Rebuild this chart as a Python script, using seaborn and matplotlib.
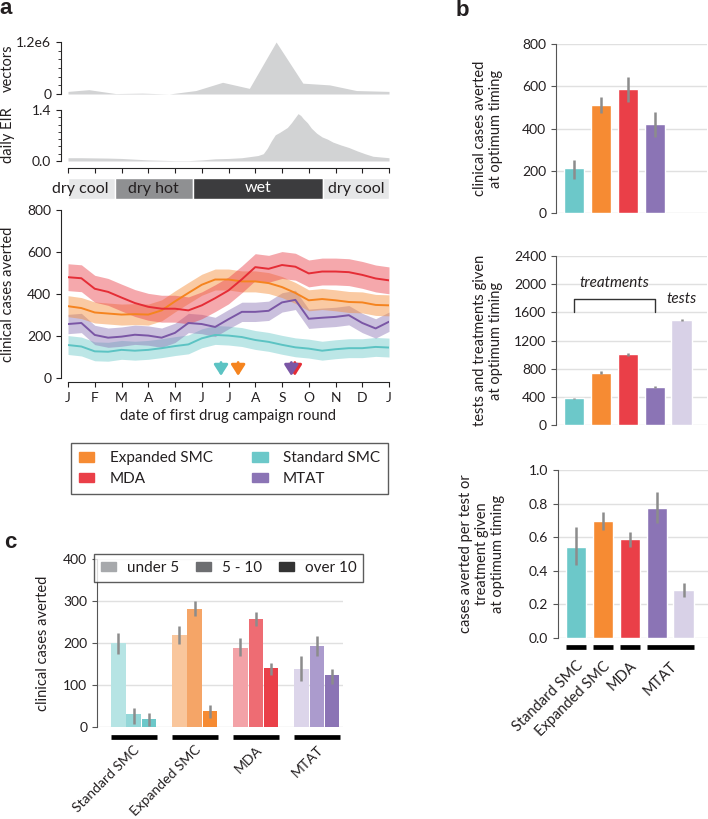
import numpy as np
import pandas as pd
import matplotlib
matplotlib.use("Agg")
import matplotlib.pyplot as plt
import matplotlib.ticker as mticker
import seaborn as sns
from matplotlib.patches import Patch

# ---------------- data ----------------
month_labels = ["J", "F", "M", "A", "M", "J", "J", "A", "S", "O", "N", "D", "J"]

# seasonal vector abundance and daily EIR (months since 1 Jan)
vector_month = [0, 0.78, 1.78, 2.78, 3.78, 4.78, 5.78, 6.78, 7.78, 8.78, 9.78, 10.78, 12]
vector_count = [0.06e6, 0.10e6, 0.01e6, 0.02e6, 0.0, 0.08e6, 0.27e6, 0.13e6,
                1.2e6, 0.25e6, 0.21e6, 0.08e6, 0.06e6]

eir_month = [0, 0.5, 1.0, 1.5, 2.0, 2.5, 3.0, 3.5, 4.0, 4.5, 5.0, 5.5, 6.0, 6.5, 6.8,
             7.1, 7.3, 7.45, 7.6, 7.75, 7.9, 8.05, 8.2, 8.35, 8.5, 8.6, 8.7, 8.8, 8.95,
             9.1, 9.3, 9.5, 9.7, 9.9, 10.2, 10.5, 10.8, 11.1, 11.4, 11.7, 12]
eir_value = [0.09, 0.09, 0.085, 0.08, 0.07, 0.05, 0.03, 0.02, 0.01, 0.01, 0.03, 0.06,
             0.07, 0.09, 0.12, 0.15, 0.2, 0.35, 0.55, 0.72, 0.78, 0.85, 0.92, 1.05,
             1.2, 1.3, 1.25, 1.16, 1.05, 0.9, 0.76, 0.66, 0.6, 0.52, 0.44, 0.37, 0.28,
             0.2, 0.13, 0.11, 0.09]

season_names = ["dry cool", "dry hot", "wet", "dry cool"]
season_start = [0, 1.76, 4.67, 9.53]
season_end = [1.76, 4.67, 9.53, 12]

# clinical cases averted vs. date of first round (every half month)
campaign_month = [0, 0.5, 1, 1.5, 2, 2.5, 3, 3.5, 4, 4.5, 5, 5.5, 6, 6.5, 7, 7.5,
                  8, 8.5, 9, 9.5, 10, 10.5, 11, 11.5, 12]
expanded_smc = [342, 333, 312, 307, 302, 304, 302, 322, 365, 405, 444, 469, 469, 460,
                460, 452, 433, 405, 370, 376, 370, 362, 360, 348, 346]
standard_smc = [157, 150, 127, 125, 134, 130, 134, 142, 152, 160, 189, 205, 202, 195,
                181, 172, 158, 146, 140, 130, 137, 142, 142, 148, 145]
mda = [480, 475, 425, 410, 383, 357, 339, 330, 330, 322, 346, 380, 417, 470, 528,
       520, 538, 530, 498, 507, 507, 504, 491, 474, 465]
mtat = [257, 262, 205, 192, 197, 206, 202, 192, 215, 262, 257, 243, 280, 315, 315,
        320, 360, 372, 282, 287, 291, 299, 262, 236, 268]
band_halfwidth = {"Expanded SMC": 50, "Standard SMC": 45, "MDA": 64, "MTAT": 46}
optimum_month = {"Standard SMC": 5.72, "Expanded SMC": 6.36, "MDA": 8.48, "MTAT": 8.35}

# panel b
b_keys = ["Standard SMC", "Expanded SMC", "MDA", "MTAT", "MTAT tests"]
strategy_labels = ["Standard SMC", "Expanded SMC", "MDA", "MTAT"]
cases_opt = [211, 510, 586, 421]
cases_lo = [163, 472, 527, 361]
cases_hi = [250, 548, 643, 480]
given_opt = [378, 742, 1002, 544, 1489]
given_lo = [366, 722, 982, 532, 1474]
given_hi = [390, 762, 1022, 556, 1504]
per_given = [0.543, 0.696, 0.589, 0.773, 0.286]
per_lo = [0.435, 0.643, 0.540, 0.685, 0.245]
per_hi = [0.660, 0.750, 0.630, 0.870, 0.327]

# panel c, by age group
age_groups = ["under 5", "5 - 10", "over 10"]
c_under5 = [200, 218, 189, 139]
c_under5_lo = [175, 197, 169, 109]
c_under5_hi = [223, 240, 211, 169]
c_5to10 = [30, 282, 258, 192]
c_5to10_lo = [8, 264, 240, 169]
c_5to10_hi = [46, 300, 274, 216]
c_over10 = [18, 38, 140, 123]
c_over10_lo = [2, 22, 125, 103]
c_over10_hi = [34, 53, 153, 139]

# ---------------- style ----------------
sns.set_style("ticks")
plt.rcParams["font.family"] = ["Lato", "DejaVu Sans"]
fs = 10
plt.rcParams["font.size"] = fs
txt = "#231f20"
plt.rcParams["text.color"] = txt
plt.rcParams["axes.labelcolor"] = txt
plt.rcParams["xtick.color"] = txt
plt.rcParams["ytick.color"] = txt
plt.rcParams["xtick.labelsize"] = fs
plt.rcParams["ytick.labelsize"] = fs
plt.rcParams["axes.labelsize"] = fs

colors = {"Standard SMC": "#6cc8c9", "Expanded SMC": "#f68b33",
          "MDA": "#ea3f48", "MTAT": "#8b74b5", "MTAT tests": "#d8d1e7"}
line_colors = {"Standard SMC": "#5cc3c3", "Expanded SMC": "#f5841f",
               "MDA": "#e52d36", "MTAT": "#7a56a5"}
age_shades = {
    "Standard SMC": ["#b6e4e4", "#94d7d8", "#6cc8c9"],
    "Expanded SMC": ["#f9c69c", "#f5a567", "#f68b33"],
    "MDA": ["#f3a2a7", "#ee6c73", "#ea3f48"],
    "MTAT": ["#dcd5ea", "#ab9bcd", "#8b74b5"],
}
grey_profile = "#d2d3d4"
err_col = "#8c8c8c"

W, H = 708, 819
fig = plt.figure(figsize=(W / 100, H / 100), dpi=100)


def add_px_axes(x0, y0, x1, y1):
    return fig.add_axes([x0 / W, 1 - y1 / H, (x1 - x0) / W, (y1 - y0) / H])


# ---------------- panel a ----------------
ax_v = add_px_axes(68, 42, 389, 94)
ax_v.fill_between(vector_month, vector_count, color=grey_profile, lw=0)
ax_v.set_xlim(0, 12)
ax_v.set_ylim(0, 1.2e6)
ax_v.set_yticks([0, 1.2e6], ["0", "1.2e6"])
ax_v.yaxis.set_minor_locator(mticker.MultipleLocator(0.2e6))
ax_v.tick_params(axis="y", which="minor", length=2.5)
ax_v.set_xticks([])
sns.despine(ax=ax_v, bottom=True)
ax_v.spines["left"].set_position(("outward", 5))
ax_v.set_ylabel("vectors", fontsize=10.5)
ax_v.yaxis.set_label_coords(-0.165, 0.5)

ax_e = add_px_axes(68, 110, 389, 161)
ax_e.fill_between(eir_month, eir_value, color=grey_profile, lw=0)
ax_e.set_xlim(0, 12)
ax_e.set_ylim(0, 1.4)
ax_e.set_yticks([0, 1.4], ["0.0", "1.4"])
ax_e.yaxis.set_minor_locator(mticker.MultipleLocator(0.2))
ax_e.tick_params(axis="y", which="minor", length=2.5)
ax_e.set_xticks(range(13))
ax_e.set_xticklabels([])
sns.despine(ax=ax_e)
ax_e.spines["left"].set_position(("outward", 5))
ax_e.spines["bottom"].set_position(("outward", 5))
ax_e.set_ylabel("daily EIR", fontsize=10.5)
ax_e.yaxis.set_label_coords(-0.165, 0.5)

ax_s = add_px_axes(68, 178, 389, 199)
season_colors = ["#e6e7e8", "#8f9092", "#3c3c3e", "#e6e7e8"]
ax_s.barh(0.5, np.subtract(season_end, season_start), left=season_start, height=1,
          color=season_colors)
ax_s.text(0.47, 0.5, season_names[0], ha="center", va="center", fontsize=11.5)
ax_s.text(3.2, 0.5, season_names[1], ha="center", va="center", fontsize=11.5)
ax_s.text(7.1, 0.5, season_names[2], ha="center", va="center", fontsize=11.5, color="white")
ax_s.text(10.77, 0.5, season_names[3], ha="center", va="center", fontsize=11.5)
ax_s.set_xlim(0, 12)
ax_s.set_ylim(0, 1)
ax_s.axis("off")

ax_c = add_px_axes(68, 210, 389, 378)
lines = pd.DataFrame({
    "month": campaign_month * 4,
    "cases": standard_smc + mtat + expanded_smc + mda,
    "strategy": (["Standard SMC"] * 25 + ["MTAT"] * 25 + ["Expanded SMC"] * 25 + ["MDA"] * 25),
})
for name, grp in lines.groupby("strategy", sort=False):
    hw = band_halfwidth[name]
    ax_c.fill_between(grp["month"], grp["cases"] - hw, grp["cases"] + hw,
                      color=colors[name], alpha=0.45, lw=0)
sns.lineplot(data=lines, x="month", y="cases", hue="strategy", palette=line_colors,
             lw=1.4, legend=False, ax=ax_c)
for name in ["MDA", "Standard SMC", "Expanded SMC", "MTAT"]:
    m = optimum_month[name]
    ax_c.annotate("", xy=(m, 10), xytext=(m, 74),
                  arrowprops=dict(arrowstyle="-|>,head_width=0.35,head_length=0.55",
                                  color=line_colors[name], lw=2, mutation_scale=12,
                                  shrinkA=0, shrinkB=0))
ax_c.set_xlim(0, 12)
ax_c.set_ylim(0, 800)
ax_c.set_yticks([0, 200, 400, 600, 800])
ax_c.set_xticks(range(13), month_labels, fontsize=10.5)
sns.despine(ax=ax_c)
ax_c.spines["left"].set_position(("outward", 5))
ax_c.spines["bottom"].set_position(("outward", 3))
ax_c.set_xlabel("date of first drug campaign round", fontsize=10.5)
ax_c.set_ylabel("clinical cases averted", fontsize=10.5)
ax_c.yaxis.set_label_coords(-0.165, 0.5)

leg_a = fig.legend(
    handles=[Patch(color=colors[k]) for k in ["Expanded SMC", "MDA", "Standard SMC", "MTAT"]],
    labels=["Expanded SMC", "MDA", "Standard SMC", "MTAT"],
    ncol=2, loc="center", bbox_to_anchor=(229.5 / W, 1 - 468.5 / H),
    frameon=True, fancybox=False, edgecolor="#333333", fontsize=11,
    handlelength=1.0, handleheight=0.6, columnspacing=2.6, borderpad=0.55,
    labelspacing=0.45, handletextpad=1.0)
leg_a.get_frame().set_linewidth(1.0)


# ---------------- panel b ----------------
def style_bar_axes(ax, ylim, yticks, ticklabels=None):
    ax.set_ylim(*ylim)
    ax.set_yticks(yticks, ticklabels)
    ax.yaxis.grid(True, color="#e0e0e0", lw=1)
    ax.set_axisbelow(True)
    sns.despine(ax=ax, bottom=True)
    ax.spines["left"].set_color("#555555")
    ax.tick_params(axis="y", length=3.5, color="#555555")
    ax.set_xlabel("")


ax_b1 = add_px_axes(556, 44, 707, 213)
df_b1 = pd.DataFrame({"key": b_keys[:4], "value": cases_opt})
sns.barplot(data=df_b1, x="key", y="value", hue="key", order=b_keys, palette=colors,
            width=0.75, errorbar=None, legend=False, saturation=1, ax=ax_b1)
ax_b1.vlines(range(4), cases_lo, cases_hi, color=err_col, lw=1.8)
style_bar_axes(ax_b1, (0, 800), [0, 200, 400, 600, 800])
ax_b1.set_xlim(-0.68, 4.95)
ax_b1.set_xticks([])
ax_b1.set_ylabel("clinical cases averted\nat optimum timing", fontsize=10.5)
ax_b1.yaxis.set_label_coords(-0.35, 0.5)

ax_b2 = add_px_axes(556, 256, 707, 425)
df_b2 = pd.DataFrame({"key": b_keys, "value": given_opt})
sns.barplot(data=df_b2, x="key", y="value", hue="key", order=b_keys, palette=colors,
            width=0.75, errorbar=None, legend=False, saturation=1, ax=ax_b2)
ax_b2.vlines(range(5), given_lo, given_hi, color=err_col, lw=1.8)
style_bar_axes(ax_b2, (0, 2400), [0, 400, 800, 1200, 1600, 2000, 2400])
ax_b2.set_xlim(-0.68, 4.95)
ax_b2.set_xticks([])
ax_b2.plot([0, 0, 3, 3], [1605, 1790, 1790, 1605], color="#333333", lw=1)
ax_b2.text(1.5, 2016, "treatments", style="italic", ha="center", va="center", fontsize=11)
ax_b2.text(4, 1790, "tests", style="italic", ha="center", va="center", fontsize=11)
ax_b2.set_ylabel("tests and treatments given\nat optimum timing", fontsize=10.5)
ax_b2.yaxis.set_label_coords(-0.35, 0.5)

ax_b3 = add_px_axes(558, 470, 709, 638)
df_b3 = pd.DataFrame({"key": b_keys, "value": per_given})
sns.barplot(data=df_b3, x="key", y="value", hue="key", order=b_keys, palette=colors,
            width=0.75, errorbar=None, legend=False, saturation=1, ax=ax_b3)
ax_b3.vlines(range(5), per_lo, per_hi, color=err_col, lw=1.8)
style_bar_axes(ax_b3, (0, 1.0), [0, 0.2, 0.4, 0.6, 0.8, 1.0],
               ["0.0", "0.2", "0.4", "0.6", "0.8", "1.0"])
ax_b3.set_xlim(-0.68, 4.95)
for x0, x1 in [(-0.375, 0.375), (0.625, 1.375), (1.625, 2.375), (2.625, 4.375)]:
    ax_b3.plot([x0, x1], [-0.055, -0.055], transform=ax_b3.get_xaxis_transform(),
               clip_on=False, color="black", lw=3.4, solid_capstyle="butt")
ax_b3.set_xticks([0, 1, 2, 3.5], strategy_labels, rotation=45, ha="right",
                 rotation_mode="anchor", fontsize=10.5)
ax_b3.tick_params(axis="x", length=0, pad=15)
ax_b3.set_ylabel("cases averted per test or\ntreatment given\nat optimum timing",
                 fontsize=10.5)
ax_b3.yaxis.set_label_coords(-0.35, 0.5)

# ---------------- panel c ----------------
ax_cc = add_px_axes(97, 559, 343, 727)
df_c = pd.DataFrame({
    "strategy": strategy_labels * 3,
    "age": [age_groups[0]] * 4 + [age_groups[1]] * 4 + [age_groups[2]] * 4,
    "value": c_under5 + c_5to10 + c_over10,
})
sns.barplot(data=df_c, x="strategy", y="value", hue="age", order=strategy_labels,
            hue_order=age_groups, width=0.75, gap=0.06, errorbar=None, legend=False,
            saturation=1, ax=ax_cc)
for bar in ax_cc.patches:
    cx = bar.get_x() + bar.get_width() / 2
    g = int(round(cx))
    k = int(round((cx - g) / 0.25)) + 1
    bar.set_facecolor(age_shades[strategy_labels[g]][k])
    bar.set_edgecolor("none")
for k, (lo, hi) in enumerate([(c_under5_lo, c_under5_hi), (c_5to10_lo, c_5to10_hi),
                              (c_over10_lo, c_over10_hi)]):
    ax_cc.vlines(np.arange(4) + (k - 1) * 0.25, lo, hi, color=err_col, lw=1.8)
style_bar_axes(ax_cc, (0, 400), [0, 100, 200, 300, 400])
ax_cc.set_xlim(-0.6, 3.43)
for g in range(4):
    ax_cc.plot([g - 0.375, g + 0.375], [-0.06, -0.06], transform=ax_cc.get_xaxis_transform(),
               clip_on=False, color="black", lw=3.4, solid_capstyle="butt")
ax_cc.set_xticks(range(4), strategy_labels, rotation=45, ha="right", rotation_mode="anchor",
                 fontsize=10)
ax_cc.tick_params(axis="x", length=0, pad=12)
ax_cc.set_ylabel("clinical cases averted", fontsize=10.5)
ax_cc.yaxis.set_label_coords(-0.19, 0.5)

leg_c = fig.legend(
    handles=[Patch(color=c) for c in ["#a7a9ac", "#6d6e71", "#333333"]],
    labels=age_groups, ncol=3, loc="center", bbox_to_anchor=(228.5 / W, 1 - 568 / H),
    frameon=True, fancybox=False, edgecolor="#333333", fontsize=11,
    handlelength=1.0, handleheight=0.6, columnspacing=1.1, borderpad=0.45,
    handletextpad=0.7)
leg_c.get_frame().set_linewidth(1.0)

# panel letters
for letter, x, y in [("a", 6, 9), ("b", 462, 10), ("c", 10, 543)]:
    fig.text(x / W, 1 - y / H, letter, fontsize=16, fontweight="bold",
             family=["Liberation Sans", "DejaVu Sans"], ha="center", va="center")

fig.savefig("out.png", dpi=100)
